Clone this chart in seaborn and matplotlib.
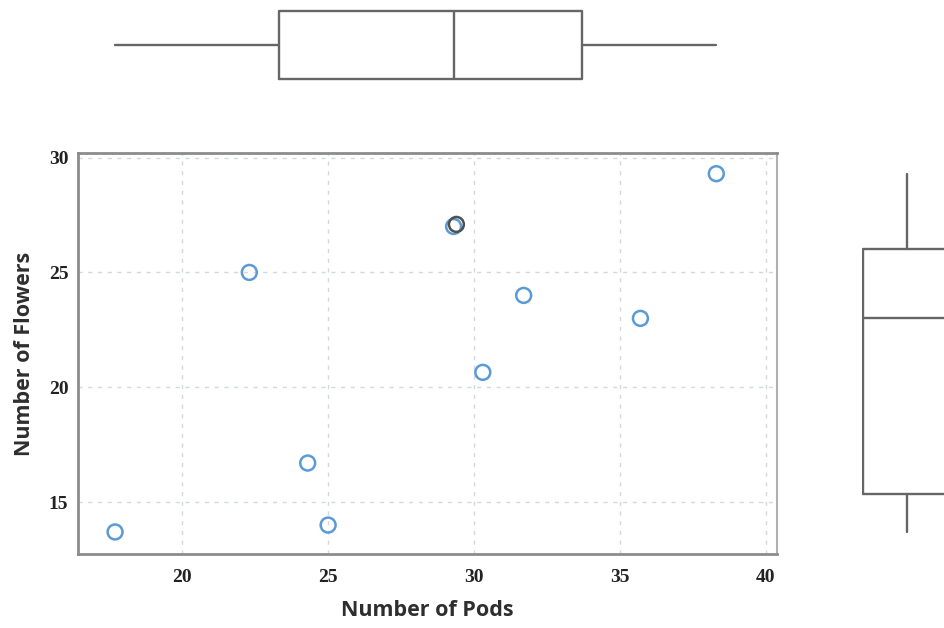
import numpy as np
import pandas as pd
import matplotlib
matplotlib.use("Agg")
import matplotlib.pyplot as plt
import matplotlib.transforms as mtransforms
import seaborn as sns

# data
pods = [17.7, 22.3, 24.3, 25.0, 29.3, 30.3, 31.7, 35.7, 38.3]
flowers = [13.7, 25.0, 16.7, 14.0, 27.0, 20.65, 24.0, 23.0, 29.3]
selected = [False, False, False, False, True, False, False, False, False]
x_ticks = [20, 25, 30, 35, 40]
y_ticks = [15, 20, 25, 30]

df = pd.DataFrame({"pods": pods, "flowers": flowers, "selected": selected})


def box_stats(values, label):
    """
    Minitab style box stats ((n+1)p quartile positions).
    """
    v = np.sort(np.asarray(values, dtype=float))
    q1, med, q3 = np.percentile(v, [25, 50, 75], method="weibull")
    iqr = q3 - q1
    lo = v[v >= q1 - 1.5 * iqr].min()
    hi = v[v <= q3 + 1.5 * iqr].max()
    return [dict(label=label, med=med, q1=q1, q3=q3, whislo=lo, whishi=hi, fliers=[])]


sns.set_style("white")
W, H = 944, 628
fig = plt.figure(figsize=(W / 100, H / 100), dpi=100)

ax = fig.add_axes([78 / W, 74 / H, 699 / W, 401 / H])
ax_top = fig.add_axes([78 / W, (H - 85) / H, 699 / W, 80 / H])
ax_right = fig.add_axes([862 / W, 74 / H, 90 / W, 401 / H])

xlim = (16.43, 40.38)
ylim = (12.74, 30.2)

# scatter
sns.scatterplot(data=df, x="pods", y="flowers", ax=ax, s=115, marker="o",
                facecolor="none", edgecolor="#5b9bd5", linewidth=1.8, zorder=3)
sel = df[df["selected"]]
offset = mtransforms.ScaledTranslation(2 / 72, 1.5 / 72, fig.dpi_scale_trans)
ax.scatter(sel["pods"], sel["flowers"], s=115, facecolors="none",
           edgecolors="#505050", linewidths=1.8, zorder=4,
           transform=ax.transData + offset)

ax.set_xlim(*xlim)
ax.set_ylim(*ylim)
ax.set_xticks(x_ticks)
ax.set_yticks(y_ticks)
ax.grid(True, color="#d3d8de", linestyle=(0, (3, 4)), linewidth=1.0)
ax.set_axisbelow(True)
for side in ["left", "bottom", "top"]:
    ax.spines[side].set_color("#8c8c8c")
    ax.spines[side].set_linewidth(2)
ax.spines["right"].set_color("#b0b0b0")
ax.spines["right"].set_linewidth(1.5)
ax.tick_params(axis="both", length=3, color="#9a9a9a", labelsize=14, labelcolor="#222222")
ax.tick_params(axis="x", pad=8)
ax.tick_params(axis="y", pad=4)
for lab in ax.get_xticklabels() + ax.get_yticklabels():
    lab.set_fontfamily("Liberation Serif")
    lab.set_fontweight("bold")
ax.set_xlabel("Number of Pods", fontfamily="Open Sans", fontsize=15.5,
              fontweight="bold", color="#2e2e2e", labelpad=10)
ax.set_ylabel("Number of Flowers", fontfamily="Open Sans", fontsize=15.5,
              fontweight="bold", color="#2e2e2e", labelpad=10)

# marginal boxplots
line = dict(color="#666666", linewidth=1.7, solid_joinstyle="round")
ax_top.bxp(box_stats(pods, "pods"), positions=[0], widths=0.84,
           orientation="horizontal", showcaps=False, showfliers=False,
           boxprops=line, whiskerprops=line, medianprops=line)
ax_top.set_xlim(*xlim)
ax_top.set_ylim(-0.5, 0.5)
ax_top.axis("off")

ax_right.bxp(box_stats(flowers, "flowers"), positions=[0], widths=0.98,
             orientation="vertical", showcaps=False, showfliers=False,
             boxprops=line, whiskerprops=line, medianprops=line)
ax_right.set_ylim(*ylim)
ax_right.set_xlim(-0.5, 0.5)
ax_right.axis("off")

fig.savefig("out.png", dpi=100)
